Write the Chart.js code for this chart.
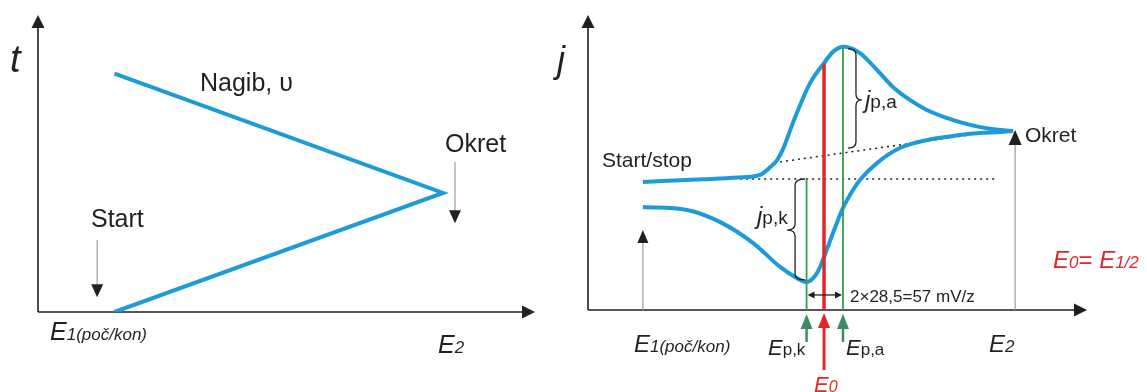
<!DOCTYPE html>
<html>
<head>
<meta charset="utf-8">
<script src="https://cdn.jsdelivr.net/npm/chart.js@4/dist/chart.umd.min.js"></script>
<style>
  html, body { margin: 0; padding: 0; background: #fff; }
  #wrap { position: relative; width: 1147px; height: 392px; overflow: hidden; }
  canvas { position: absolute; top: 0; }
  #sweep { left: 0; }
  #cv { left: 545px; }
</style>
</head>
<body>
<div id="wrap">
  <canvas id="sweep" width="545" height="392"></canvas>
  <canvas id="cv" width="602" height="392"></canvas>
</div>
<script>
// lijevo: trokutasti potencijal, E prema t
const sweepE = [15.4, 81.5, 15.4];
const sweepT = [0, 40.1, 80.3];

// desno: ciklicki voltamogram (polazni i povratni smjer)
const forwardE = [11.0, 23.0, 30.0, 34.5, 36.5, 37.9, 39.1, 41.1, 44.5, 47.3, 49.1, 51.3, 54.5, 57.9, 61.1, 64.5, 67.9, 71.9, 74.5, 78.6, 82.6, 85.2];
const forwardJ = [43.4, 44.3, 44.9, 45.8, 48.4, 50.8, 54.6, 63.6, 76.9, 83.7, 87.5, 89.2, 87.1, 81.4, 75.6, 71.2, 67.8, 65.1, 63.7, 62.0, 61.0, 60.7];
const reverseE = [85.2, 82.6, 78.6, 74.5, 67.9, 62.5, 57.9, 54.5, 53.1, 51.1, 49.1, 47.3, 45.9, 43.7, 41.9, 38.5, 33.1, 26.5, 19.8, 11.0];
const reverseJ = [60.7, 60.3, 60.0, 59.3, 57.6, 54.9, 49.8, 44.1, 40.7, 34.6, 26.1, 18.0, 12.5, 9.5, 10.8, 14.6, 22.7, 29.8, 33.9, 34.9];

// Ep,k, E0, Ep,a i visine okomitih linija
const markerE = [43.8, 47.3, 51.1];
const markerTop = [44.4, 83.5, 88.8];

// bazne linije (tockasto)
const baseE = [30.5, 81.6];
const baseJ = [44.4, 44.4];
const slopeE = [38.5, 76.0];
const slopeJ = [50.2, 59.2];

const BLUE = '#1d9ad9';
const INK = '#231f20';
const GREEN = '#2e9e4f';
const GREEN_ARROW = '#3b8c62';
const RED = '#e3262a';
const FONT = '"Liberation Sans", Arial, sans-serif';

const pts = (xs, ys) => xs.map((x, i) => ({ x: x, y: ys[i] }));

function head(ctx, tx, ty, dx, dy, len, wid, color) {
  const bx = tx - dx * len, by = ty - dy * len;
  const px = -dy * wid / 2, py = dx * wid / 2;
  ctx.fillStyle = color;
  ctx.beginPath();
  ctx.moveTo(tx, ty);
  ctx.lineTo(bx + px, by + py);
  ctx.lineTo(bx - px, by - py);
  ctx.closePath();
  ctx.fill();
}

// okomita strelica od (x, y0) do vrha (x, y1)
function vArrow(ctx, x, y0, y1, o) {
  const dir = y1 < y0 ? -1 : 1;
  ctx.strokeStyle = o.line;
  ctx.lineWidth = o.lw;
  ctx.beginPath();
  ctx.moveTo(x, y0);
  ctx.lineTo(x, y1 - dir * (o.len - 2));
  ctx.stroke();
  head(ctx, x, y1, 0, dir, o.len, o.wid, o.head);
}

function brace(ctx, xs, xe, xt, yt, yb, ym) {
  const r = 6;
  ctx.beginPath();
  ctx.moveTo(xe, yt);
  ctx.quadraticCurveTo(xs, yt, xs, yt + r);
  ctx.lineTo(xs, ym - r);
  ctx.quadraticCurveTo(xs, ym, xt, ym);
  ctx.quadraticCurveTo(xs, ym, xs, ym + r);
  ctx.lineTo(xs, yb - r);
  ctx.quadraticCurveTo(xs, yb, xe, yb);
  ctx.stroke();
}

function runs(ctx, x, y, parts, color) {
  ctx.fillStyle = color;
  ctx.textAlign = 'left';
  ctx.textBaseline = 'alphabetic';
  for (const p of parts) {
    ctx.font = p[1];
    ctx.fillText(p[0], x, y);
    x += ctx.measureText(p[0]).width;
  }
}

const axesPlugin = {
  id: 'axes',
  beforeDatasetsDraw(chart) {
    const ctx = chart.ctx, a = chart.chartArea;
    ctx.save();
    ctx.strokeStyle = INK;
    ctx.lineWidth = 1.6;
    ctx.beginPath();
    ctx.moveTo(a.left, a.bottom);
    ctx.lineTo(a.left, a.top + 11);
    ctx.moveTo(a.left, a.bottom);
    ctx.lineTo(a.right - 11, a.bottom);
    ctx.stroke();
    head(ctx, a.left, a.top, 0, -1, 13, 13, INK);
    head(ctx, a.right, a.bottom, 1, 0, 13, 13, INK);
    ctx.restore();
  }
};

function baseOptions(pad) {
  return {
    responsive: false,
    animation: false,
    devicePixelRatio: 1,
    layout: { padding: pad },
    plugins: { legend: { display: false }, tooltip: { enabled: false } },
    scales: {
      x: { type: 'linear', min: 0, max: 100, display: false },
      y: { type: 'linear', min: 0, max: 100, display: false }
    },
    elements: { point: { radius: 0 } }
  };
}

// ---------- lijevi graf ----------
const sweepLabels = {
  id: 'sweepLabels',
  afterDraw(chart) {
    const ctx = chart.ctx;
    const X = v => chart.scales.x.getPixelForValue(v);
    const Y = v => chart.scales.y.getPixelForValue(v);
    ctx.save();
    const grey = { line: '#8a8a8a', lw: 1, head: INK, len: 13, wid: 12 };
    vArrow(ctx, X(11.9), Y(24.2), Y(5.0), grey);
    vArrow(ctx, X(83.9), Y(50.5), Y(29.9), grey);

    runs(ctx, 10, 72, [['t', 'italic 38px ' + FONT]], INK);
    runs(ctx, 200, 91, [['Nagib, \u03c5', '25px ' + FONT]], INK);
    runs(ctx, 445, 152, [['Okret', '25px ' + FONT]], INK);
    runs(ctx, 91, 227, [['Start', '25px ' + FONT]], INK);
    runs(ctx, 50, 340, [['E', 'italic 25px ' + FONT], ['1(po\u010d/kon)', 'italic 17px ' + FONT]], INK);
    runs(ctx, 438, 353, [['E', 'italic 25px ' + FONT], ['2', 'italic 17px ' + FONT]], INK);
    ctx.restore();
  }
};

new Chart(document.getElementById('sweep').getContext('2d'), {
  type: 'scatter',
  data: {
    datasets: [{
      data: pts(sweepE, sweepT),
      showLine: true,
      borderColor: BLUE,
      borderWidth: 4,
      borderJoinStyle: 'miter',
      tension: 0
    }]
  },
  options: baseOptions({ left: 38, right: 10, top: 15, bottom: 80 }),
  plugins: [axesPlugin, sweepLabels]
});

// ---------- desni graf ----------
const cvLabels = {
  id: 'cvLabels',
  afterDraw(chart) {
    const ctx = chart.ctx;
    const X = v => chart.scales.x.getPixelForValue(v);
    const Y = v => chart.scales.y.getPixelForValue(v);
    const axisY = Y(0);
    ctx.save();

    const grey = { line: '#9a9a9a', lw: 1.2, head: INK, len: 13, wid: 11 };
    vArrow(ctx, X(11.0), axisY, Y(27.1), grey);
    vArrow(ctx, X(85.6), axisY, Y(61.0), { line: '#9a9a9a', lw: 1.2, head: INK, len: 15, wid: 13 });

    const g = { line: GREEN_ARROW, lw: 2.5, head: GREEN_ARROW, len: 15, wid: 12 };
    vArrow(ctx, X(markerE[0]), axisY + 32, axisY + 4, g);
    vArrow(ctx, X(markerE[2]), axisY + 32, axisY + 4, g);
    vArrow(ctx, X(markerE[1]), axisY + 60, axisY + 3, { line: RED, lw: 3, head: RED, len: 15, wid: 12 });

    // razmak pikova
    const yd = Y(5.1), xa = X(markerE[0]) + 1, xb = X(markerE[2]) - 1;
    ctx.strokeStyle = INK;
    ctx.lineWidth = 1.3;
    ctx.beginPath();
    ctx.moveTo(xa + 5, yd);
    ctx.lineTo(xb - 5, yd);
    ctx.stroke();
    head(ctx, xa, yd, -1, 0, 7, 7, INK);
    head(ctx, xb, yd, 1, 0, 7, 7, INK);

    // viticaste zagrade
    ctx.strokeStyle = INK;
    ctx.lineWidth = 1.3;
    brace(ctx, X(53.7), X(52.1), X(54.9), Y(88.6), Y(54.9), Y(71.2));
    brace(ctx, X(41.5), X(43.5), X(39.9), Y(44.4), Y(10.2), Y(27.1));

    runs(ctx, 12, 72, [['j', 'italic 36px ' + FONT]], INK);
    runs(ctx, 57, 167, [['Start/stop', '21px ' + FONT]], INK);
    runs(ctx, 480, 142, [['Okret', '21px ' + FONT]], INK);
    runs(ctx, 320, 108, [['j', 'italic 24px ' + FONT], ['p,a', '19px ' + FONT]], INK);
    runs(ctx, 212, 224, [['j', 'italic 24px ' + FONT], ['p,k', '19px ' + FONT]], INK);
    runs(ctx, 305, 302, [['2\u00d728,5=57 mV/z', '17px ' + FONT]], INK);
    runs(ctx, 89, 352, [['E', 'italic 24px ' + FONT], ['1(po\u010d/kon)', 'italic 17px ' + FONT]], INK);
    runs(ctx, 223, 355, [['E', 'italic 22px ' + FONT], ['p,k', '17px ' + FONT]], INK);
    runs(ctx, 301, 355, [['E', 'italic 22px ' + FONT], ['p,a', '17px ' + FONT]], INK);
    runs(ctx, 444, 352, [['E', 'italic 24px ' + FONT], ['2', 'italic 17px ' + FONT]], INK);
    runs(ctx, 269, 392, [['E', 'italic 22px ' + FONT], ['0', 'italic 16px ' + FONT]], RED);
    runs(ctx, 508, 268, [['E', 'italic 24px ' + FONT], ['0', 'italic 17px ' + FONT], ['= ', '24px ' + FONT],
      ['E', 'italic 24px ' + FONT], ['1/2', 'italic 17px ' + FONT]], RED);
    ctx.restore();
  }
};

const vline = (i, color, w) => ({
  data: pts([markerE[i], markerE[i]], [0, markerTop[i]]),
  showLine: true, borderColor: color, borderWidth: w, tension: 0
});

const curve = (xs, ys) => ({
  data: pts(xs, ys),
  showLine: true,
  borderColor: BLUE,
  borderWidth: 4,
  cubicInterpolationMode: 'monotone'
});

new Chart(document.getElementById('cv').getContext('2d'), {
  type: 'scatter',
  data: {
    datasets: [
      vline(1, RED, 3.5),
      vline(0, GREEN, 1.8),
      vline(2, GREEN, 1.8),
      curve(forwardE, forwardJ),
      curve(reverseE, reverseJ),
      { data: pts(baseE, baseJ), showLine: true, borderColor: INK, borderWidth: 1.5, borderDash: [2, 4], tension: 0 },
      { data: pts(slopeE, slopeJ), showLine: true, borderColor: INK, borderWidth: 1.5, borderDash: [2, 4], tension: 0 }
    ]
  },
  options: baseOptions({ left: 43, right: 60, top: 15, bottom: 82 }),
  plugins: [axesPlugin, cvLabels]
});
</script>
</body>
</html>
